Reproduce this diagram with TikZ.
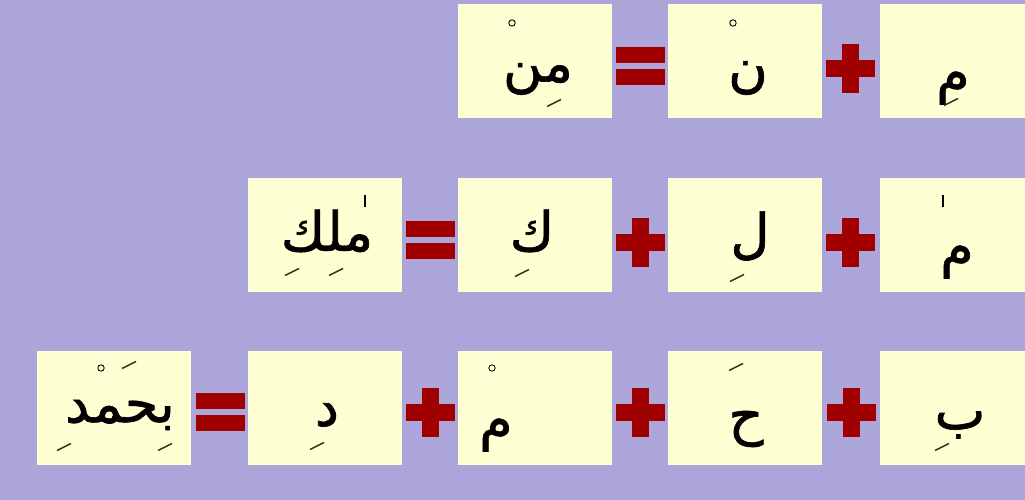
\documentclass[tikz,border=0pt]{standalone}
\usepackage{fontspec}
\usetikzlibrary{positioning,calc}
\TeXXeTstate=1
\newfontfamily\arabicfont[Script=Arabic,FakeBold=1.2]{DejaVu Sans}
\definecolor{bgcol}{HTML}{ACA6DA}
\definecolor{card}{HTML}{FFFFD4}
\definecolor{opred}{HTML}{A00000}
\definecolor{markink}{HTML}{3A2A10}
\newcommand{\ar}[1]{{\arabicfont\beginR #1\endR}}
\newcommand{\sukun}[1]{\draw[black,line width=0.9pt] (#1) circle (3.2pt);}
\newcommand{\kasra}[1]{\draw[markink,line width=1.5pt] ($(#1)+(-7,3.5)$) -- ++(14,-7);}
\newcommand{\fatha}[1]{\draw[markink,line width=1.5pt] ($(#1)+(-7,3.5)$) -- ++(14,-7);}
\newcommand{\alifmark}[1]{\draw[black,line width=2pt] ($(#1)+(0,-6)$) -- ++(0,12);}
\newcommand{\plusop}[1]{\fill[opred] ($(#1)+(-24.5,-8.5)$) rectangle ++(49,17);
  \fill[opred] ($(#1)+(-8.5,-24.5)$) rectangle ++(17,49);}
\newcommand{\eqop}[1]{\fill[opred] ($(#1)+(-24.5,-19)$) rectangle ++(49,16);
  \fill[opred] ($(#1)+(-24.5,3)$) rectangle ++(49,16);}

\begin{document}
\begin{tikzpicture}[
  x=1pt,y=-1pt,
  cell/.style={fill=card,minimum width=154pt,minimum height=114pt,inner sep=0pt},
  glyph/.style={font=\fontsize{54}{60}\selectfont,inner sep=0pt}]
  \fill[bgcol] (0,0) rectangle (1025,500);
  \useasboundingbox (0,0) rectangle (1025,500);
  % row 1
  \node[cell] (bman) at (535,61.5) {};
  \node[cell] (bnun) at (745,61.5) {};
  \node[cell] (bmimA) at (957,61.5) {};
  \node[glyph] (man) at (538,79) {\ar{من}};
  \node[glyph] (nun) at (748,78) {\ar{ن}};
  \node[glyph] (mimA) at (953,88) {\ar{م}};
  \sukun{512,23} \kasra{554,103}
  \sukun{733,23}
  \kasra{951,102}
  \eqop{640.5,66} \plusop{850.5,68.5}
  % row 2
  \node[cell] (bmalik) at (325,234.5) {};
  \node[cell] (bkaf) at (535,234.5) {};
  \node[cell] (blam) at (745,234.5) {};
  \node[cell] (bmimB) at (957,234.5) {};
  \node[glyph] (malik) at (327,231) {\ar{ملك}};
  \node[glyph] (kaf) at (532,231) {\ar{ك}};
  \node[glyph] (lam) at (750,236) {\ar{ل}};
  \node[glyph] (mimB) at (957,262) {\ar{م}};
  \alifmark{365,201} \kasra{292,272} \kasra{336,272}
  \kasra{522,273}
  \kasra{737,278}
  \alifmark{943,201}
  \eqop{430.5,240} \plusop{640,242} \plusop{850,242}
  % row 3
  \node[cell] (bhamd) at (113.5,407.5) {};
  \node[cell] (bdal) at (325,407.5) {};
  \node[cell] (bmimC) at (535,407.5) {};
  \node[cell] (bha) at (745,407.5) {};
  \node[cell] (bba) at (957,407.5) {};
  \node[glyph] (hamd) at (120,415) {\ar{بحمد}};
  \node[glyph] (dal) at (327,415) {\ar{د}};
  \node[glyph] (mimC) at (496,435) {\ar{م}};
  \node[glyph] (ha) at (746,429) {\ar{ح}};
  \node[glyph] (ba) at (960,425) {\ar{ب}};
  \sukun{101,368} \fatha{129,365} \kasra{64,447} \kasra{165,447}
  \kasra{317,446}
  \sukun{492,368}
  \fatha{736,367}
  \kasra{942,447}
  \eqop{220,412} \plusop{430.5,412.5} \plusop{640.5,412.5} \plusop{851,412.5}
\end{tikzpicture}
\end{document}
